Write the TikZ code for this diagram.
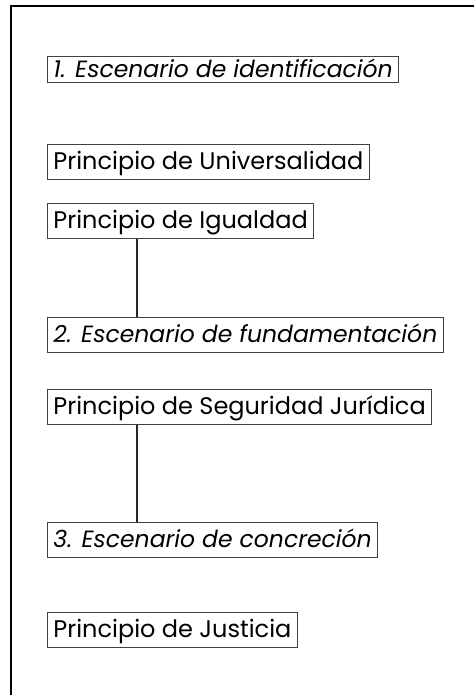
\documentclass[tikz,border=0pt]{standalone}
\usepackage{fontspec}
\setmainfont{Poppins}
\begin{document}
\begin{tikzpicture}
        [x=1pt, y=-1pt,
        box/.style={draw=black!75, line width=0.9pt, anchor=north west, inner xsep=6pt, inner ysep=0pt,
            text height=25pt, text depth=10pt, font=\fontsize{24}{28}\selectfont},
        stage/.style={box, font=\fontsize{23.5}{28}\selectfont\itshape},
        edge/.style={black!85, line width=1.4pt},
        frame/.style={black, line width=2pt}]

        \useasboundingbox (0,0) rectangle (474,695);

        % outer frame, top and left side only
        \draw[frame] (474,6) -- (11,6) -- (11,695);

        \node[stage, text height=21pt, text depth=5pt] (esc1) at (47,56) {1. Escenario de identificación};
        \node[box] (uni) at (47,144) {Principio de Universalidad};
        \node[box] (igu) at (47,203) {Principio de Igualdad};
        \node[stage] (esc2) at (47,317) {2. Escenario de fundamentación};
        \node[box] (seg) at (47,389) {Principio de Seguridad Jurídica};
        \node[stage] (esc3) at (47,522) {3. Escenario de concreción};
        \node[box] (jus) at (47,612) {Principio de Justicia};

        \coordinate (stem) at (137,0);

        % vertical links
        \draw[edge] (igu.south -| stem) -- (esc2.north -| stem);
        \draw[edge] (seg.south -| stem) -- (esc3.north -| stem);

    \end{tikzpicture}
\end{document}
